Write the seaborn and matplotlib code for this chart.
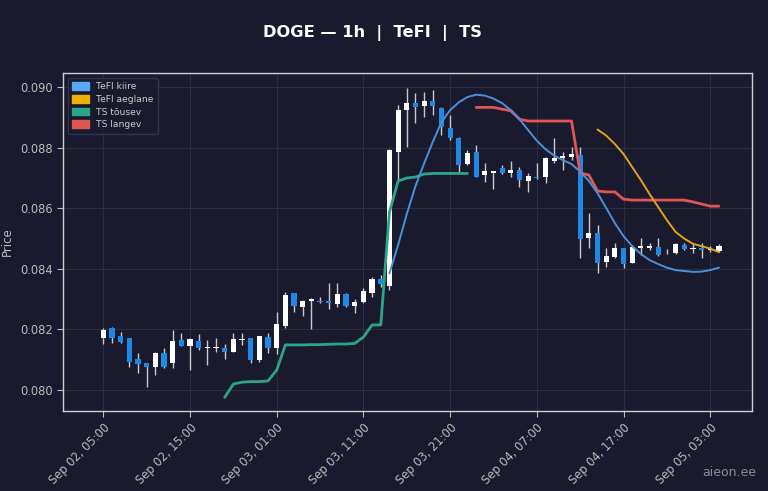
import pandas as pd
import numpy as np
import matplotlib
matplotlib.use("Agg")
import matplotlib.pyplot as plt
import matplotlib.dates as mdates
from matplotlib.patches import Patch
import seaborn as sns

# hourly candles, Sep 02 05:00 .. Sep 05 04:00
times = pd.date_range("2025-09-02 05:00", periods=72, freq="h")

opens = [0.08171, 0.08204, 0.08178, 0.08171, 0.08102, 0.08088, 0.08077, 0.08121, 0.08088, 0.08165,
         0.08146, 0.08162, 0.08138, 0.08140, 0.08140, 0.08126, 0.08165, 0.08171, 0.08099, 0.08174,
         0.08138, 0.08212, 0.08319, 0.08275, 0.08295, 0.08295, 0.08293, 0.08284, 0.08316, 0.08278,
         0.08291, 0.08321, 0.08366, 0.08343, 0.08786, 0.08926, 0.08949, 0.08937, 0.08955, 0.08932,
         0.08864, 0.08833, 0.08746, 0.08786, 0.08710, 0.08717, 0.08732, 0.08717, 0.08728, 0.08690,
         0.08704, 0.08704, 0.08757, 0.08767, 0.08768, 0.08776, 0.08501, 0.08519, 0.08423, 0.08440,
         0.08468, 0.08418, 0.08470, 0.08470, 0.08473, 0.08451, 0.08451, 0.08479, 0.08465, 0.08470,
         0.08462, 0.08459]
closes = [0.08198, 0.08173, 0.08159, 0.08093, 0.08086, 0.08075, 0.08121, 0.08075, 0.08162, 0.08146,
          0.08167, 0.08138, 0.08143, 0.08143, 0.08126, 0.08167, 0.08167, 0.08099, 0.08178, 0.08138,
          0.08217, 0.08314, 0.08277, 0.08295, 0.08299, 0.08291, 0.08289, 0.08316, 0.08277, 0.08291,
          0.08328, 0.08365, 0.08350, 0.08792, 0.08926, 0.08948, 0.08933, 0.08955, 0.08937, 0.08869,
          0.08831, 0.08743, 0.08783, 0.08704, 0.08724, 0.08723, 0.08718, 0.08728, 0.08693, 0.08707,
          0.08699, 0.08765, 0.08767, 0.08772, 0.08779, 0.08497, 0.08519, 0.08418, 0.08442, 0.08468,
          0.08415, 0.08473, 0.08476, 0.08475, 0.08446, 0.08454, 0.08481, 0.08465, 0.08470, 0.08462,
          0.08465, 0.08476]
highs = [0.08204, 0.08209, 0.08192, 0.08173, 0.08121, 0.08088, 0.08126, 0.08140, 0.08198, 0.08187,
         0.08173, 0.08184, 0.08165, 0.08171, 0.08151, 0.08187, 0.08187, 0.08173, 0.08180, 0.08189,
         0.08258, 0.08324, 0.08320, 0.08297, 0.08303, 0.08308, 0.08354, 0.08354, 0.08321, 0.08299,
         0.08336, 0.08374, 0.08380, 0.08795, 0.08941, 0.08996, 0.08979, 0.08984, 0.08990, 0.08934,
         0.08908, 0.08835, 0.08794, 0.08809, 0.08748, 0.08724, 0.08743, 0.08756, 0.08737, 0.08715,
         0.08748, 0.08770, 0.08831, 0.08786, 0.08801, 0.08803, 0.08583, 0.08545, 0.08468, 0.08484,
         0.08470, 0.08479, 0.08501, 0.08484, 0.08501, 0.08465, 0.08484, 0.08484, 0.08487, 0.08484,
         0.08476, 0.08481]
lows = [0.08151, 0.08154, 0.08154, 0.08075, 0.08055, 0.08011, 0.08050, 0.08072, 0.08072, 0.08145,
        0.08066, 0.08132, 0.08083, 0.08126, 0.08101, 0.08126, 0.08149, 0.08088, 0.08093, 0.08123,
        0.08119, 0.08204, 0.08258, 0.08244, 0.08200, 0.08286, 0.08266, 0.08275, 0.08273, 0.08253,
        0.08286, 0.08308, 0.08341, 0.08330, 0.08693, 0.08803, 0.08880, 0.08902, 0.08908, 0.08842,
        0.08827, 0.08717, 0.08743, 0.08702, 0.08687, 0.08662, 0.08712, 0.08704, 0.08671, 0.08654,
        0.08698, 0.08682, 0.08748, 0.08726, 0.08759, 0.08436, 0.08468, 0.08385, 0.08405, 0.08435,
        0.08402, 0.08418, 0.08446, 0.08462, 0.08443, 0.08448, 0.08450, 0.08462, 0.08451, 0.08435,
        0.08456, 0.08456]

# TS tõusev: candles 14..42
ts_up = [0.07976, 0.08020, 0.08026, 0.08028, 0.08028, 0.08030, 0.08066, 0.08149, 0.08149, 0.08149,
         0.08150, 0.08150, 0.08151, 0.08152, 0.08152, 0.08154, 0.08175, 0.08215, 0.08215, 0.08587,
         0.08690, 0.08700, 0.08703, 0.08713, 0.08715, 0.08715, 0.08715, 0.08715, 0.08715]
# TS langev: candles 43..71
ts_down = [0.08933, 0.08933, 0.08933, 0.08927, 0.08922, 0.08894, 0.08888, 0.08888, 0.08888, 0.08888,
           0.08888, 0.08888, 0.08716, 0.08710, 0.08657, 0.08654, 0.08654, 0.08630, 0.08627, 0.08627,
           0.08627, 0.08627, 0.08627, 0.08627, 0.08627, 0.08621, 0.08614, 0.08607, 0.08607]
# TeFI kiire: candles 33..71
tefi_fast = [0.08385, 0.08479, 0.08581, 0.08673, 0.08748, 0.08819, 0.08884, 0.08924, 0.08950, 0.08967,
             0.08975, 0.08972, 0.08962, 0.08947, 0.08924, 0.08894, 0.08858, 0.08823, 0.08795, 0.08774,
             0.08759, 0.08746, 0.08721, 0.08690, 0.08650, 0.08601, 0.08551, 0.08508, 0.08475, 0.08449,
             0.08429, 0.08416, 0.08404, 0.08396, 0.08393, 0.08390, 0.08391, 0.08396, 0.08404]
# TeFI aeglane: candles 57..71
tefi_slow = [0.08860, 0.08840, 0.08812, 0.08779, 0.08736, 0.08693, 0.08647, 0.08604, 0.08561, 0.08522,
             0.08500, 0.08483, 0.08475, 0.08467, 0.08455]

BG = "#1a1a2e"
UP = "#ffffff"
DOWN = "#1e88e5"
C_FAST = "#4a90d9"
C_SLOW = "#e0a21a"
C_UP = "#2aa58a"
C_DOWN = "#e05555"

sns.set_theme(style="dark")
plt.rcParams["font.family"] = ["DejaVu Sans"]

fig = plt.figure(figsize=(7.68, 4.91), dpi=100, facecolor=BG)
ax = fig.add_axes([0.082, 0.163, 0.897, 0.688], facecolor=BG)

df = pd.DataFrame({"time": times, "open": opens, "close": closes, "high": highs, "low": lows})
df["x"] = mdates.date2num(df["time"])
df["up"] = df["close"] >= df["open"]
df["bottom"] = df[["open", "close"]].min(axis=1)
df["height"] = (df["close"] - df["open"]).abs().clip(lower=0.000025)

ax.vlines(df["x"], df["low"], df["high"], color="#c8c8c8", linewidth=1.0, zorder=2)
ax.bar(df["x"], df["height"], bottom=df["bottom"], width=0.6 / 24,
       color=np.where(df["up"], UP, DOWN), linewidth=0, zorder=3)

lines = [
    (times[14:43], ts_up, C_UP, 2.0),
    (times[43:72], ts_down, C_DOWN, 2.0),
    (times[33:72], tefi_fast, C_FAST, 1.4),
    (times[57:72], tefi_slow, C_SLOW, 1.4),
]
for t, v, c, lw in lines:
    sns.lineplot(x=mdates.date2num(t), y=v, ax=ax, color=c, linewidth=lw, zorder=4)

ax.set_xlim(df["x"].iloc[0] - 4.65 / 24, df["x"].iloc[0] + 74.8 / 24)
ax.set_ylim(0.07931, 0.09046)
ax.set_yticks([0.080, 0.082, 0.084, 0.086, 0.088, 0.090])
ax.yaxis.set_major_formatter(plt.FormatStrFormatter("%.3f"))
ax.set_xticks(mdates.date2num(times[::10]))
ax.xaxis.set_major_formatter(mdates.DateFormatter("%b %d, %H:%M"))
plt.setp(ax.get_xticklabels(), rotation=45, ha="right", rotation_mode="anchor")

ax.tick_params(colors="#bbbbbb", labelsize=8.3, length=4, width=0.8, bottom=True, left=True)
ax.grid(True, color="#2c2c44", linewidth=0.8)
for s in ax.spines.values():
    s.set_color("#cfcfcf")
    s.set_linewidth(1.0)
ax.set_xlabel("")
ax.set_ylabel("Price", color="#bbbbbb", fontsize=8.5)
ax.yaxis.set_label_coords(-0.071, 0.5)

handles = [Patch(color="#5aa9f5", label="TeFI kiire"),
           Patch(color="#f0b000", label="TeFI aeglane"),
           Patch(color="#2aa58a", label="TS tõusev"),
           Patch(color="#e05555", label="TS langev")]
leg = ax.legend(handles=handles, loc="upper left", fontsize=6.6, frameon=True,
                facecolor=BG, edgecolor="#3a3a50", labelcolor="#cccccc",
                handlelength=1.8, handleheight=0.9, borderpad=0.5, labelspacing=0.4)

fig.text(0.485, 0.933, "DOGE — 1h  |  TeFI  |  TS", color="#ffffff", fontsize=11.7,
         fontweight="bold", ha="center", va="center")
fig.text(0.985, 0.038, "aieon.ee", color="#8a8a9a", fontsize=9, ha="right", va="center")

fig.savefig("out.png", dpi=100, facecolor=BG)
